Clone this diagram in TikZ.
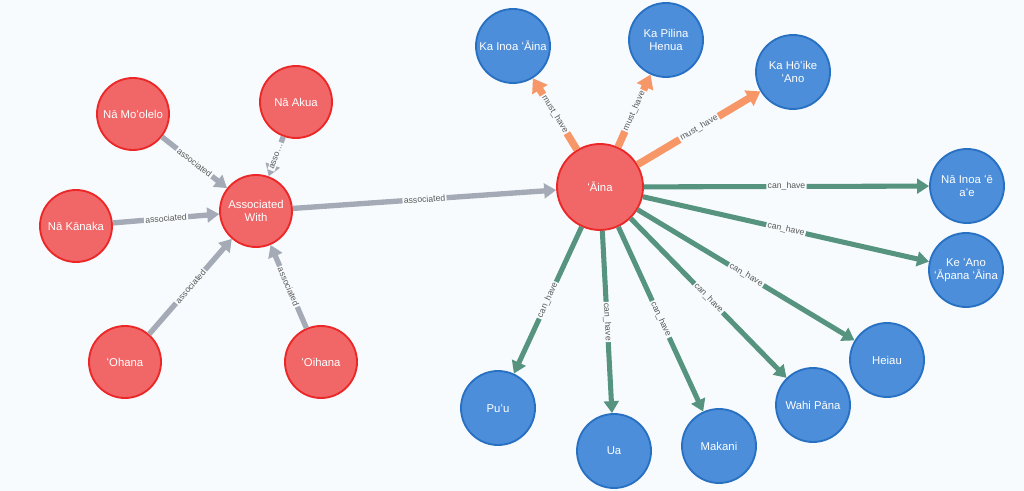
\documentclass[tikz,border=0pt]{standalone}
\usepackage{fontspec}
\setmainfont{Liberation Sans}
\usetikzlibrary{arrows.meta}
\definecolor{bgc}{HTML}{F8FBFD}
\definecolor{redfill}{HTML}{F16667}
\definecolor{redline}{HTML}{EB2728}
\definecolor{bluefill}{HTML}{4C8EDA}
\definecolor{blueline}{HTML}{2870C2}
\definecolor{musthave}{HTML}{F79767}
\definecolor{canhave}{HTML}{569480}
\definecolor{assoc}{HTML}{A5ABB6}
\begin{document}
\begin{tikzpicture}
      [ x=0.75pt, y=-0.75pt
        , every node/.style={font=\fontsize{8.5}{9.5}\selectfont, text=white, align=center}
        , rednode/.style={circle, fill=redfill, draw=redline, line width=1.4pt, minimum size=54pt, inner sep=0pt}
        , bluenode/.style={circle, fill=bluefill, draw=blueline, line width=1.4pt, minimum size=55.5pt, inner sep=0pt}
        , lbl/.style={midway, sloped, fill=bgc, text=black!65, inner sep=1pt, font=\fontsize{6.5}{7.5}\selectfont}
        , assocline/.style={draw=assoc, line width=4pt, -{Triangle[length=9pt,width=11pt]}}
        , mustline/.style={draw=musthave, line width=5.5pt, -{Triangle[length=10pt,width=13pt]}}
        , canline/.style={draw=canhave, line width=3.8pt, -{Triangle[length=9pt,width=11pt]}}
      ]
      \fill[bgc] (0,0) rectangle (1024,491);
      % left cluster
      \node (aw) [rednode] at (256,211) {Associated\\With};
      \node (moolelo) [rednode] at (133,114) {Nā Moʻolelo};
      \node (akua) [rednode] at (296,102) {Nā Akua};
      \node (kanaka) [rednode] at (76,226) {Nā Kānaka};
      \node (ohana) [rednode] at (125,362) {ʻOhana};
      \node (oihana) [rednode] at (321,362) {ʻOihana};
      % centre
      \node (aina) [rednode, minimum size=64.5pt] at (600,187) {ʻĀina};
      % must have
      \node (inoa) [bluenode] at (513,46) {Ka Inoa ʻĀina};
      \node (pilina) [bluenode] at (666,40) {Ka Pilina\\Henua};
      \node (hoike) [bluenode] at (793,72) {Ka Hōʻike\\ʻAno};
      % can have
      \node (inoaee) [bluenode] at (967,186) {Nā Inoa ʻē\\aʻe};
      \node (apana) [bluenode] at (966,270) {Ke ʻAno\\ʻĀpana ʻĀina};
      \node (heiau) [bluenode] at (887,360) {Heiau};
      \node (wahi) [bluenode] at (813,405) {Wahi Pāna};
      \node (makani) [bluenode] at (719,446) {Makani};
      \node (ua) [bluenode] at (614,451) {Ua};
      \node (puu) [bluenode] at (498,408) {Puʻu};

      \draw[assocline] (moolelo) -- (aw) node[lbl] {associated};
      \draw[assocline] (akua) -- (aw) node[lbl] {asso…};
      \draw[assocline] (kanaka) -- (aw) node[lbl] {associated};
      \draw[assocline] (ohana) -- (aw) node[lbl] {associated};
      \draw[assocline] (oihana) -- (aw) node[lbl] {associated};
      \draw[assocline] (aw) -- (aina) node[lbl] {associated};

      \draw[mustline] (aina) -- (inoa) node[lbl] {must\_have};
      \draw[mustline] (aina) -- (pilina) node[lbl] {must\_have};
      \draw[mustline] (aina) -- (hoike) node[lbl] {must\_have};

      \draw[canline] (aina) -- (inoaee) node[lbl] {can\_have};
      \draw[canline] (aina) -- (apana) node[lbl] {can\_have};
      \draw[canline] (aina) -- (heiau) node[lbl] {can\_have};
      \draw[canline] (aina) -- (wahi) node[lbl] {can\_have};
      \draw[canline] (aina) -- (makani) node[lbl] {can\_have};
      \draw[canline] (aina) -- (ua) node[lbl] {can\_have};
      \draw[canline] (aina) -- (puu) node[lbl] {can\_have};
    \end{tikzpicture}
\end{document}
